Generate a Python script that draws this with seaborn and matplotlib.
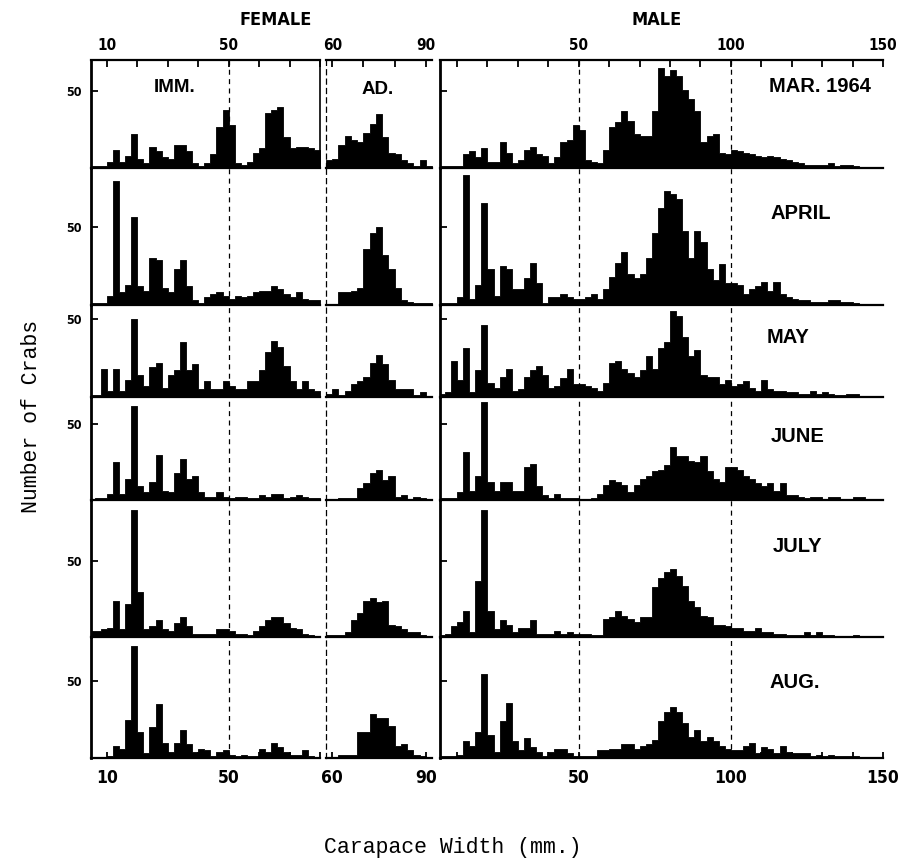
import numpy as np
import matplotlib
matplotlib.use("Agg")
import matplotlib.pyplot as plt
from matplotlib import font_manager as fm
import seaborn as sns

# ---------------- data (counts per 2-mm carapace-width class) ----------------
MONTHS = ["MAR. 1964", "APRIL", "MAY", "JUNE", "JULY", "AUG."]
BIN = 2
IMM_START, AD_START, MALE_START = 4, 58, 4   # left edge of first class (mm)

# Female immature, classes 4-6 ... 78-80 mm
IMM_MAR = [1, 1, 1, 4, 12, 4, 8, 22, 6, 3, 14, 11, 7, 6, 15, 15, 11, 3, 1, 3, 9, 27, 38, 28, 3, 2, 4, 10, 13, 36, 38, 40, 20, 13, 14, 14, 13, 12]
IMM_APR = [1, 1, 1, 6, 79, 8, 13, 56, 12, 9, 30, 29, 11, 8, 23, 29, 12, 3, 1, 5, 7, 8, 6, 4, 6, 5, 6, 8, 9, 9, 12, 10, 7, 5, 8, 4, 3, 3]
IMM_MAY = [1, 1, 18, 4, 18, 4, 11, 50, 14, 7, 19, 22, 6, 14, 17, 35, 17, 21, 5, 10, 5, 5, 10, 7, 5, 5, 10, 10, 17, 29, 36, 32, 20, 10, 5, 10, 5, 4]
IMM_JUN = [0, 1, 1, 4, 25, 4, 14, 62, 9, 5, 12, 30, 6, 5, 18, 27, 14, 16, 5, 2, 2, 5, 2, 1, 2, 2, 1, 1, 3, 2, 4, 4, 1, 2, 3, 2, 1, 1]
IMM_JUL = [4, 4, 5, 6, 24, 5, 22, 84, 30, 5, 7, 11, 5, 4, 9, 13, 7, 2, 2, 2, 2, 5, 5, 4, 2, 2, 1, 4, 7, 11, 13, 13, 9, 6, 5, 2, 1, 0]
IMM_AUG = [0, 0, 0, 1, 8, 6, 25, 73, 17, 3, 20, 35, 10, 4, 10, 18, 9, 4, 6, 5, 1, 4, 5, 2, 1, 2, 1, 1, 6, 4, 10, 7, 4, 2, 2, 5, 1, 0]

# Female adult, classes 58-60 ... 90-92 mm
AD_MAR = [5, 6, 15, 21, 18, 17, 23, 29, 35, 20, 10, 9, 5, 3, 1, 5, 1]
AD_APR = [0, 0, 8, 8, 9, 11, 36, 46, 50, 32, 23, 11, 3, 2, 1, 1, 1]
AD_MAY = [2, 5, 1, 4, 8, 10, 13, 22, 27, 21, 11, 5, 5, 5, 1, 3, 0]
AD_JUN = [0, 0, 1, 1, 1, 8, 11, 18, 20, 13, 16, 2, 3, 0, 2, 1, 0]
AD_JUL = [1, 1, 1, 3, 11, 16, 24, 26, 23, 24, 8, 7, 5, 3, 3, 1, 0]
AD_AUG = [0, 0, 2, 2, 2, 17, 17, 29, 26, 26, 21, 8, 9, 5, 2, 1, 0]

# Male, classes 4-6 ... 148-150 mm
MALE_MAR = [1, 1, 1, 1, 9, 11, 7, 13, 4, 4, 17, 10, 3, 5, 12, 14, 9, 8, 3, 7, 17, 18, 28, 25, 5,
            4, 3, 12, 27, 30, 37, 31, 22, 21, 21, 37, 65, 60, 64, 60, 51, 45, 37, 17, 21,
            22, 10, 9, 12, 11, 10, 9, 8, 7, 8, 7, 6, 5, 4, 3, 2, 2, 2, 2, 3, 1, 2, 2, 1, 0, 0, 0, 0]
MALE_APR = [1, 1, 1, 5, 83, 4, 13, 65, 23, 6, 25, 23, 10, 10, 17, 27, 14, 1, 5, 5, 7, 5, 4, 4, 5,
            7, 4, 10, 18, 27, 34, 20, 17, 20, 30, 46, 62, 73, 71, 68, 47, 30, 47, 40, 23,
            16, 26, 14, 14, 13, 7, 10, 12, 15, 9, 15, 7, 5, 4, 3, 3, 2, 2, 2, 3, 3, 2, 2, 1, 0, 0, 0, 0]
MALE_MAY = [2, 3, 23, 11, 31, 3, 17, 46, 9, 6, 13, 18, 4, 5, 13, 17, 20, 14, 6, 7, 12, 18, 8, 8, 7,
            6, 4, 9, 22, 23, 18, 15, 13, 17, 26, 18, 31, 35, 55, 52, 38, 26, 30, 14, 13,
            13, 8, 11, 7, 8, 10, 6, 4, 11, 5, 4, 4, 3, 3, 2, 2, 4, 2, 3, 2, 1, 1, 2, 2, 0, 0, 0, 0]
MALE_JUN = [1, 1, 1, 5, 32, 6, 16, 65, 12, 6, 12, 12, 6, 6, 22, 24, 9, 3, 1, 4, 1, 1, 1, 0, 0,
            1, 4, 10, 13, 12, 10, 5, 10, 14, 16, 19, 20, 23, 35, 29, 29, 26, 25, 29, 19,
            14, 12, 22, 22, 20, 16, 14, 11, 9, 11, 6, 11, 3, 3, 2, 1, 2, 2, 0, 2, 2, 0, 0, 2, 2, 0, 0, 0]
MALE_JUL = [1, 2, 7, 10, 17, 3, 37, 84, 17, 5, 11, 8, 3, 6, 6, 11, 2, 2, 2, 4, 2, 3, 2, 2, 2,
            1, 1, 12, 13, 17, 14, 12, 10, 13, 13, 33, 39, 43, 45, 40, 34, 24, 20, 14, 13,
            8, 8, 7, 6, 6, 4, 4, 6, 3, 3, 2, 2, 1, 1, 1, 3, 1, 3, 1, 1, 0, 0, 0, 1, 0, 0, 0, 0]
MALE_AUG = [1, 1, 1, 2, 11, 8, 17, 55, 15, 4, 24, 36, 11, 5, 13, 7, 4, 1, 4, 6, 6, 3, 1, 1, 1,
            1, 5, 5, 6, 6, 9, 9, 6, 8, 9, 12, 24, 30, 33, 30, 23, 14, 18, 11, 14,
            11, 8, 6, 5, 5, 8, 10, 3, 7, 6, 3, 8, 4, 3, 3, 3, 1, 2, 1, 2, 1, 1, 1, 1, 0, 0, 0, 0]

IMM = [IMM_MAR, IMM_APR, IMM_MAY, IMM_JUN, IMM_JUL, IMM_AUG]
AD = [AD_MAR, AD_APR, AD_MAY, AD_JUN, AD_JUL, AD_AUG]
MALE = [MALE_MAR, MALE_APR, MALE_MAY, MALE_JUN, MALE_JUL, MALE_AUG]

# ---------------- fonts ----------------
avail = {f.name for f in fm.fontManager.ttflist}
if "Liberation Sans Narrow" in avail:
    NARROW = dict(fontfamily="Liberation Sans Narrow", fontweight="bold")
    sz_top, sz_bot, sz_y, sz_head = 13, 15, 11, 15
else:
    NARROW = dict(fontfamily="DejaVu Sans", fontstretch="condensed", fontweight="bold")
    sz_top, sz_bot, sz_y, sz_head = 11, 12.5, 9, 13
BOLD = dict(fontfamily="Liberation Sans", fontweight="bold")
MONO = dict(fontfamily="Liberation Mono")

# ---------------- layout (pixels) ----------------
W, H = 901, 868
fig = plt.figure(figsize=(W / 100, H / 100), dpi=100)
COLS = {"imm": (91, 320), "ad": (326, 432), "male": (440, 883)}
ROWS = [(60, 168), (168, 305), (305, 397), (397, 500), (500, 637), (637, 758)]
YMAX = [70.5, 87.5, 58.7, 68, 90.5, 79]
XLIM = {"imm": (4.8, 80), "ad": (58, 92), "male": (4.4, 150)}
MAJOR = {"imm": ([10, 50], ["10", "50"]), "ad": ([60, 90], ["60", "90"]),
         "male": ([50, 100, 150], ["50", "100", "150"])}
MINOR = {"imm": list(range(10, 81, 10)), "ad": [60, 70, 80, 90], "male": list(range(10, 151, 10))}
DASH = (0, (4, 3.5))


def add_ax(col, r):
    x0, x1 = COLS[col]
    y0, y1 = ROWS[r]
    return fig.add_axes([x0 / W, 1 - y1 / H, (x1 - x0) / W, (y1 - y0) / H])


month_pos = [(0.858, 0.75), (0.815, 0.67), (0.786, 0.647), (0.808, 0.62), (0.806, 0.657), (0.801, 0.62)]

for r in range(6):
    for col, data, start in (("imm", IMM[r], IMM_START), ("ad", AD[r], AD_START),
                             ("male", MALE[r], MALE_START)):
        ax = add_ax(col, r)
        vals = np.asarray(data, dtype=float)
        n = len(vals)
        centers = start + BIN * np.arange(n) + BIN / 2
        sns.histplot(x=centers, weights=vals, binwidth=BIN, binrange=(start, start + BIN * n),
                     element="step", fill=True, color="black", alpha=1, linewidth=0.6, ax=ax)
        ax.set_xlabel("")
        ax.set_ylabel("")
        ax.set_xlim(*XLIM[col])
        ax.set_ylim(0, YMAX[r])
        ax.patch.set_alpha(0)

        # spines
        for s in ax.spines.values():
            s.set_color("black")
        ax.spines["bottom"].set_linewidth(1.6)
        ax.spines["top"].set_visible(r == 0)
        ax.spines["top"].set_linewidth(1.6)
        ax.spines["right"].set_visible(col == "imm" and r == 0)
        ax.spines["right"].set_linewidth(1.2)
        if col == "ad":
            ax.spines["left"].set_linestyle(DASH)
            ax.spines["left"].set_linewidth(0.9)
        else:
            ax.spines["left"].set_linewidth(2.0)

        # dashed reference lines
        if col == "imm":
            ax.axvline(50, color="black", lw=0.9, ls=DASH, zorder=3)
        elif col == "male":
            for v in (50, 100):
                ax.axvline(v, color="black", lw=0.9, ls=DASH, zorder=3)

        # y ticks
        if col == "imm":
            ax.set_yticks([50], labels=["50"], fontsize=sz_y, **NARROW)
            ax.set_yticks([0], minor=True)
            ax.tick_params(axis="y", which="both", direction="in", length=5, width=1.3,
                           pad=7, left=True, right=False)
        elif col == "male":
            ax.set_yticks([0, 50], labels=["", ""])
            ax.tick_params(axis="y", direction="in", length=5, width=1.3, left=True, right=False)
        else:
            ax.set_yticks([])

        # x ticks
        maj, labs = MAJOR[col]
        if r == 0:
            ax.set_xticks(maj, labels=labs, fontsize=sz_top, **NARROW)
            ax.set_xticks(MINOR[col], minor=True)
            ax.tick_params(axis="x", which="both", direction="in", length=5, width=1.3,
                           top=True, bottom=False, labeltop=True, labelbottom=False, pad=5)
        elif r == 5:
            ax.set_xticks(maj, labels=labs, fontsize=sz_bot, **NARROW)
            ax.set_xticks(MINOR[col], minor=True)
            ax.tick_params(axis="x", which="both", direction="in", length=4, width=1.3,
                           top=False, bottom=True, labelbottom=True, pad=8)
        else:
            ax.set_xticks([])

        if col == "male":
            fx, fy = month_pos[r]
            ax.text(fx, fy, MONTHS[r], transform=ax.transAxes, ha="center", va="center",
                    fontsize=14.5, **BOLD)
        if r == 0 and col == "imm":
            ax.text(0.367, 0.745, "IMM.", transform=ax.transAxes, ha="center", va="center",
                    fontsize=13.5, **BOLD)
        if r == 0 and col == "ad":
            ax.text(0.49, 0.73, "AD.", transform=ax.transAxes, ha="center", va="center",
                    fontsize=13.5, **BOLD)

# headings and axis titles
fig.text(276 / W, 1 - 20 / H, "FEMALE", ha="center", va="center", fontsize=sz_head, **NARROW)
fig.text(657 / W, 1 - 20 / H, "MALE", ha="center", va="center", fontsize=sz_head, **NARROW)
fig.text(32 / W, 1 - 416 / H, "Number of Crabs", rotation=90, ha="center", va="center",
         fontsize=15.5, **MONO)
fig.text(453 / W, 1 - 848 / H, "Carapace Width (mm.)", ha="center", va="center",
         fontsize=15.5, **MONO)

fig.savefig("out.png", dpi=100, facecolor="white")
